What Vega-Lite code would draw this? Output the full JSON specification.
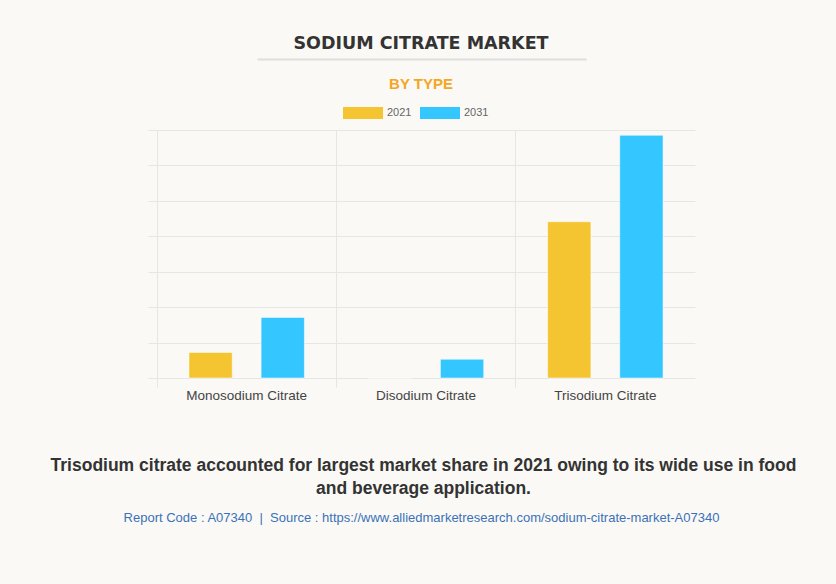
{
  "$schema": "https://vega.github.io/schema/vega-lite/v6.json",
  "width": 538,
  "height": 248,
  "autosize": {"type": "none"},
  "padding": {"left": 157, "top": 130, "right": 141, "bottom": 206},
  "background": "#faf9f5",
  "title": {
    "text": "SODIUM CITRATE MARKET",
    "subtitle": "BY TYPE",
    "anchor": "middle",
    "frame": "group",
    "dx": -5,
    "font": "DejaVu Sans",
    "fontSize": 17.5,
    "fontWeight": "bold",
    "color": "#333333",
    "subtitleFont": "Liberation Sans",
    "subtitleFontSize": 15,
    "subtitleFontWeight": "bold",
    "subtitleColor": "#f5a623",
    "subtitlePadding": 25,
    "offset": -113
  },
  "data": {
    "values": [
      {"type": "Monosodium Citrate", "year": "2021", "value": 0.72},
      {"type": "Monosodium Citrate", "year": "2031", "value": 1.71},
      {"type": "Disodium Citrate", "year": "2021", "value": 0},
      {"type": "Disodium Citrate", "year": "2031", "value": 0.53},
      {"type": "Trisodium Citrate", "year": "2021", "value": 4.41},
      {"type": "Trisodium Citrate", "year": "2031", "value": 6.85}
    ]
  },
  "layer": [
    {
      "mark": {"type": "bar", "stroke": "#ffffff", "strokeOpacity": 0.5, "strokeWidth": 1},
      "encoding": {
        "x": {
          "field": "type",
          "type": "nominal",
          "sort": ["Monosodium Citrate", "Disodium Citrate", "Trisodium Citrate"],
          "scale": {"paddingInner": 0, "paddingOuter": 0},
          "axis": {
            "title": ["Trisodium citrate accounted for largest market share in 2021 owing to its wide use in food", "and beverage application."],
            "titleFont": "Liberation Sans",
            "titleFontSize": 17.5,
            "titleFontWeight": "bold",
            "titleColor": "#333333",
            "titleLineHeight": 23,
            "titlePadding": 55,
            "titleX": 266,
            "labelAngle": 0,
            "labelFont": "Liberation Sans",
            "labelFontSize": 13.5,
            "labelColor": "#444444",
            "labelPadding": 1,
            "bandPosition": 0,
            "grid": true,
            "gridColor": "#e6e6e6",
            "tickColor": "#e6e6e6",
            "tickSize": 9,
            "domain": false
          }
        },
        "xOffset": {
          "field": "year",
          "type": "nominal",
          "scale": {"paddingInner": 0.4, "paddingOuter": 0.443}
        },
        "y": {
          "field": "value",
          "type": "quantitative",
          "scale": {"domain": [0, 7], "nice": false},
          "axis": {
            "title": null,
            "values": [0, 1, 2, 3, 4, 5, 6, 7],
            "labels": false,
            "grid": true,
            "gridColor": "#e6e6e6",
            "tickColor": "#e6e6e6",
            "tickSize": 9,
            "domain": false
          }
        },
        "color": {
          "field": "year",
          "type": "nominal",
          "scale": {"domain": ["2021", "2031"], "range": ["#f4c531", "#33c6ff"]},
          "legend": {
            "title": null,
            "orient": "none",
            "direction": "horizontal",
            "legendX": 186,
            "legendY": -37,
            "symbolType": "M-1,-0.3H1V0.3H-1Z",
            "symbolSize": 1600,
            "symbolStrokeWidth": 0,
            "labelFont": "Liberation Sans",
            "labelFontSize": 11,
            "labelColor": "#666666",
            "labelOffset": 4,
            "columnPadding": 8,
            "padding": 0
          }
        }
      }
    },
    {
      "mark": {"type": "bar", "opacity": 0},
      "encoding": {
        "x": {
          "field": "type",
          "type": "nominal",
          "axis": {
            "orient": "bottom",
            "offset": 127,
            "title": "Report Code : A07340\u00a0 | \u00a0Source : https://www.alliedmarketresearch.com/sodium-citrate-market-A07340",
            "titleFont": "Liberation Sans",
            "titleFontSize": 13,
            "titleFontWeight": "normal",
            "titleColor": "#3a72b8",
            "titleX": 264,
            "titlePadding": 6,
            "labels": false,
            "ticks": false,
            "domain": false,
            "grid": false
          }
        },
        "y": {
          "field": "value",
          "type": "quantitative",
          "scale": {"domain": [0, 7], "nice": false},
          "axis": {
            "title": null,
            "values": [0, 1, 2, 3, 4, 5, 6, 7],
            "labels": false,
            "grid": true,
            "gridColor": "#e6e6e6",
            "tickColor": "#e6e6e6",
            "tickSize": 9,
            "domain": false
          }
        }
      }
    },
    {
      "mark": {"type": "point", "opacity": 0},
      "encoding": {
        "x": {
          "field": "value",
          "type": "quantitative",
          "scale": {"domain": [0, 7], "range": [100, 429], "nice": false},
          "axis": {
            "orient": "top",
            "offset": 71,
            "title": null,
            "labels": false,
            "ticks": false,
            "grid": false,
            "domain": true,
            "domainColor": "#dedede",
            "domainWidth": 2
          }
        }
      }
    }
  ],
  "resolve": {"scale": {"x": "independent"}, "axis": {"x": "independent"}},
  "config": {"view": {"stroke": null}}
}
